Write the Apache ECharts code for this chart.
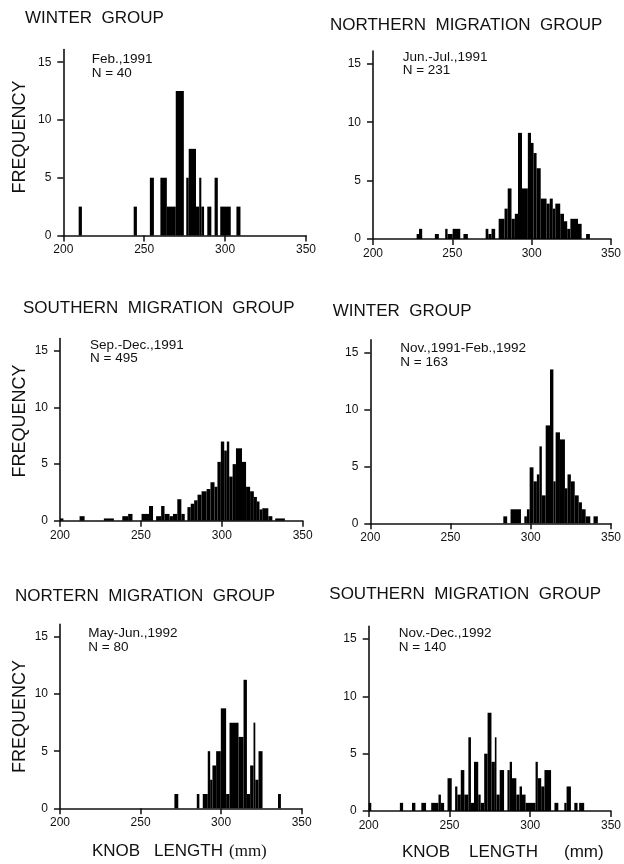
<!DOCTYPE html>
<html>
<head>
<meta charset="utf-8">
<script src="https://cdn.jsdelivr.net/npm/echarts@6/dist/echarts.min.js"></script>
<style>
  html, body { margin: 0; padding: 0; background: #fff; }
  #chart { width: 624px; height: 864px; }
</style>
</head>
<body>
<div id="chart"></div>
<script>
// Knob length histograms (frequency in %). Each panel: bin edges (mm) and the
// frequency of the bin between edges[i] and edges[i+1].
const feb91Edges = [209.5, 211.5, 243.5, 245.5, 253.5, 256, 260, 264, 269.5, 274.5, 276, 277.5, 282, 284, 285.3, 287, 289, 291.5, 293.5, 295.5, 297, 303.5, 307, 309.5];
const feb91Freq  = [2.5, 0, 2.5, 0, 5, 0, 5, 2.5, 12.5, 0, 5, 7.5, 2.5, 5, 2.5, 0, 2.5, 0, 5, 0, 2.5, 0, 2.5];

const junJul91Edges = [227.5, 229, 231, 239, 241.5, 245.5, 247, 250.2, 255, 257, 259.8, 271, 272.7, 274.7, 277, 279.2, 282.9, 284.9, 287.3, 289.4, 291.4, 293.9, 297.6, 299.6, 301.2, 303.1, 305.7, 309.4, 311.4, 313.3, 314.9, 318, 320.4, 322.4, 324.4, 329.2, 331.5, 334.3, 336.7];
const junJul91Freq  = [0.43, 0.87, 0, 0.43, 0, 0.87, 0.43, 0.87, 0, 0.43, 0, 0.87, 0.43, 0.87, 0, 1.73, 2.6, 4.33, 1.73, 2.16, 9.09, 4.33, 9.09, 8.23, 7.36, 6.06, 3.46, 3.03, 3.46, 2.6, 3.03, 2.16, 1.52, 0.87, 1.73, 1.3, 0, 0.43];

const sepDec91Edges = [200, 202.1, 212.1, 215.2, 227.1, 233.3, 238.5, 242.1, 244.8, 250.4, 255, 257.5, 259.4, 262.5, 264.6, 267.7, 269.8, 272.5, 275, 277.1, 278.75, 280.8, 282.9, 285, 287.5, 290.6, 293, 295.5, 297.3, 299.4, 301.5, 303.1, 304.6, 306.7, 308.75, 312.5, 315, 317.5, 319.8, 321.7, 323.3, 325, 328.75, 331.25, 333, 339];
const sepDec91Freq  = [0.2, 0, 0.4, 0, 0.2, 0, 0.4, 0.6, 0, 0.6, 1.3, 0, 0.4, 1.3, 0.6, 0.4, 0.6, 1.9, 0.6, 0, 1.2, 1.5, 1.8, 2.3, 2.6, 2.8, 3.4, 3.0, 5.2, 7.0, 6.2, 7.0, 3.9, 5.0, 6.4, 5.2, 3.0, 2.6, 2.1, 1.7, 1.0, 1.1, 0.4, 0, 0.2];

const nov91Feb92Edges = [282.9, 285.3, 287.4, 293.9, 296, 297.6, 299.3, 301.7, 303.8, 305.4, 306.9, 309.3, 312, 314.1, 315.5, 318.2, 321.3, 322.9, 325, 327.4, 329.9, 331.9, 334.2, 337.1, 339.1, 341.8];
const nov91Feb92Freq  = [0.61, 0, 1.23, 0, 0.61, 1.23, 4.91, 3.68, 4.29, 6.75, 2.45, 8.59, 13.5, 3.68, 7.98, 7.36, 3.07, 4.29, 3.68, 2.45, 1.84, 1.23, 0.61, 0, 0.61];

const mayJun92Edges = [271, 273.4, 284.9, 286.5, 288.6, 291.7, 293.2, 294.6, 296.9, 299.8, 303.1, 305.2, 310.8, 313.9, 316, 318, 320.1, 321.2, 323.2, 325.7, 335.3, 337.1];
const mayJun92Freq  = [1.25, 0, 1.25, 0, 1.25, 5, 2.5, 3.75, 5, 8.75, 1.25, 7.5, 6.25, 11.25, 1.25, 3.75, 7.5, 2.5, 5, 0, 1.25];

const novDec92Edges = [200, 201.6, 219.3, 221.3, 226.8, 228.9, 232.6, 235.5, 238.7, 243.2, 244.7, 246.7, 248.8, 251.4, 253.5, 254.9, 257, 259.2, 261.7, 263.3, 265.2, 267.8, 269.3, 271.5, 273.6, 276, 278.1, 279.1, 281.1, 283.8, 285.9, 287.3, 288.7, 291.4, 293.4, 294.9, 297.1, 303.3, 304.7, 306.8, 308.8, 312.9, 315, 317.4, 321.1, 322.5, 325.2, 327.3, 329.3, 330.3, 333.4];
const novDec92Freq  = [0.71, 0, 0.71, 0, 0.71, 0, 0.71, 0, 0.71, 1.43, 0.71, 0, 2.86, 0, 2.14, 1.43, 3.57, 1.43, 6.43, 0.71, 4.29, 1.43, 0.71, 5.0, 8.57, 4.29, 6.43, 1.43, 3.57, 0, 3.57, 4.29, 2.86, 1.43, 2.14, 1.43, 0.71, 4.29, 2.86, 2.14, 3.57, 0, 0.71, 0, 0.71, 2.14, 0, 0.71, 0, 0.71];

const xTicks = [200, 250, 300, 350];
const yTicks = [0, 5, 10, 15];

const titles = ['WINTER  GROUP', 'NORTHERN  MIGRATION  GROUP', 'SOUTHERN  MIGRATION  GROUP', 'WINTER  GROUP', 'NORTERN  MIGRATION  GROUP', 'SOUTHERN  MIGRATION  GROUP'];
const periods = ['Feb.,1991', 'Jun.-Jul.,1991', 'Sep.-Dec.,1991', 'Nov.,1991-Feb.,1992', 'May-Jun.,1992', 'Nov.-Dec.,1992'];
const sampleSizes = [40, 231, 495, 163, 80, 140];

const panels = [
  { edges: feb91Edges,      freq: feb91Freq,      grid: { left: 63.3,  top: 49.5,  width: 242.7, height: 186 },   title: [25, 18.8],    note: [91.7, 59.5] },
  { edges: junJul91Edges,   freq: junJul91Freq,   grid: { left: 373,   top: 51,    width: 244,   height: 188 },   title: [330, 25],     note: [402.7, 57] },
  { edges: sepDec91Edges,   freq: sepDec91Freq,   grid: { left: 60,    top: 338.6, width: 242.7, height: 182.1 }, title: [23, 308.3],   note: [90, 345] },
  { edges: nov91Feb92Edges, freq: nov91Feb92Freq, grid: { left: 370.3, top: 339.8, width: 243.4, height: 183.5 }, title: [332.7, 311.7], note: [400.3, 348.3] },
  { edges: mayJun92Edges,   freq: mayJun92Freq,   grid: { left: 60,    top: 624.4, width: 241.7, height: 183.9 }, title: [15, 596.7],   note: [88.3, 633.3] },
  { edges: novDec92Edges,   freq: novDec92Freq,   grid: { left: 368.7, top: 626.4, width: 244,   height: 184.6 }, title: [329.3, 594.2], note: [398.7, 633.3] }
];

const SANS = '"Liberation Sans", Arial, Helvetica, sans-serif';
const SERIF = '"Liberation Serif", "Times New Roman", serif';
const INK = '#111';

function binsOf(edges, freq) {
  const out = [];
  for (let i = 0; i < freq.length; i++) {
    if (freq[i] > 0) out.push([edges[i], edges[i + 1], freq[i]]);
  }
  return out;
}

function text(str, x, y, font, extra) {
  return Object.assign({
    type: 'text', x: x, y: y, silent: true,
    style: { text: str, font: font, fill: INK, align: 'left', verticalAlign: 'middle', textAlign: 'left', textVerticalAlign: 'middle' }
  }, extra || {});
}

const grids = [], xAxes = [], yAxes = [], series = [], graphics = [];

panels.forEach((p, i) => {
  grids.push(Object.assign({ containLabel: false }, p.grid));
  xAxes.push({
    type: 'value', gridIndex: i, min: 200, max: 350, interval: 50,
    axisLine: { show: true, lineStyle: { color: INK, width: 1.6 } },
    axisTick: { show: true, length: 6, inside: false, lineStyle: { color: INK, width: 1.5 }, customValues: xTicks },
    axisLabel: { show: true, margin: 8.5, color: INK, fontSize: 12, fontFamily: SANS, customValues: xTicks },
    splitLine: { show: false }
  });
  yAxes.push({
    type: 'value', gridIndex: i, min: 0, max: 16.1, interval: 5,
    axisLine: { show: true, lineStyle: { color: INK, width: 1.6 } },
    axisTick: { show: true, length: 6, inside: false, lineStyle: { color: INK, width: 1.5 }, customValues: yTicks },
    axisLabel: { show: true, margin: 12, color: INK, fontSize: 12, fontFamily: SANS, customValues: yTicks,
      formatter: v => (v % 5 === 0 ? String(v) : '') },
    splitLine: { show: false }
  });
  series.push({
    type: 'custom', xAxisIndex: i, yAxisIndex: i, silent: true, animation: false,
    data: binsOf(p.edges, p.freq),
    encode: { x: [0, 1], y: 2 },
    renderItem: function (params, api) {
      const topLeft = api.coord([api.value(0), api.value(2)]);
      const bottomRight = api.coord([api.value(1), 0]);
      return {
        type: 'rect',
        shape: { x: topLeft[0], y: topLeft[1], width: bottomRight[0] - topLeft[0], height: bottomRight[1] - topLeft[1] },
        style: { fill: '#000' }
      };
    }
  });
  graphics.push(text(titles[i], p.title[0], p.title[1], '17px ' + SANS));
  graphics.push(text(periods[i], p.note[0], p.note[1], '13.5px ' + SANS));
  graphics.push(text('N = ' + sampleSizes[i], p.note[0], p.note[1] + 13.5, '13.5px ' + SANS));
});

// rotated axis names for the left column
[137, 421, 716.5].forEach(cy => {
  graphics.push({
    type: 'text', x: 20, y: cy, rotation: Math.PI / 2, silent: true,
    style: { text: 'FREQUENCY', font: '18px ' + SANS, fill: INK, align: 'center', verticalAlign: 'middle', textAlign: 'center', textVerticalAlign: 'middle' }
  });
});

// x-axis names under the bottom row
graphics.push(text('KNOB', 92, 851, '17px ' + SANS));
graphics.push(text('LENGTH', 154, 851, '17px ' + SANS));
graphics.push(text('(mm)', 229, 852, '17px ' + SERIF));
graphics.push(text('KNOB', 402, 852, '17px ' + SANS));
graphics.push(text('LENGTH', 469, 852, '17px ' + SANS));
graphics.push(text('(mm)', 564, 852, '17px ' + SANS));

const chart = echarts.init(document.getElementById('chart'), null, { renderer: 'canvas' });
chart.setOption({
  animation: false,
  backgroundColor: '#fff',
  grid: grids,
  xAxis: xAxes,
  yAxis: yAxes,
  series: series,
  graphic: graphics
});
</script>
</body>
</html>
